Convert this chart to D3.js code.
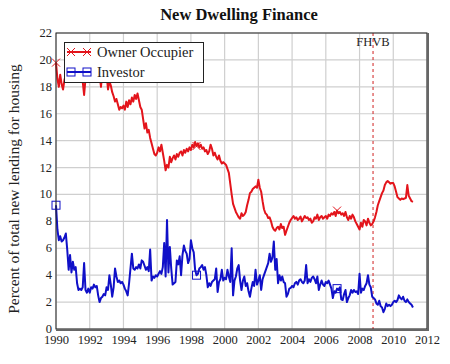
<!DOCTYPE html>
<html><head><meta charset="utf-8">
<script src="https://cdn.jsdelivr.net/npm/d3@7"></script>
<style>body{margin:0;background:#fff}svg{display:block}text{font-family:"Liberation Serif","Times New Roman",serif}</style>
</head><body><svg id="c" width="450" height="364"></svg>
<script>
const title = "New Dwelling Finance";
const yLabel = "Percent of total new lending for housing";
const seriesNames = ["Owner Occupier", "Investor"];
const startYear = 1990; // monthly observations from Jan 1990
const xTicks = [1990,1992,1994,1996,1998,2000,2002,2004,2006,2008,2010,2012];
const yTicks = [0,2,4,6,8,10,12,14,16,18,20,22];
const eventYear = 2008.8, eventLabel = "FHVB";
const ownerOccupier = [
19.8,18.6,18.0,18.9,18.2,17.8,18.5,18.9,18.4,19.0,18.7,19.2,
18.9,19.3,18.8,19.4,19.0,18.6,19.2,18.4,17.4,18.6,19.1,19.5,
19.2,19.6,19.0,19.4,18.8,19.3,19.5,18.9,18.0,19.1,19.4,18.5,
19.0,17.8,18.4,18.1,17.6,17.3,16.9,17.1,16.7,16.3,16.5,16.4,
16.6,16.3,16.9,16.5,17.0,16.7,17.2,16.9,17.4,17.1,17.5,17.0,
16.5,16.3,15.6,14.9,15.3,14.6,14.8,14.2,13.8,13.4,13.0,12.9,
13.1,13.5,13.2,13.7,13.1,12.5,11.8,12.2,12.0,12.8,12.4,12.7,
12.9,12.6,13.0,12.8,13.1,13.2,12.9,13.3,13.1,13.4,13.2,13.5,
13.3,13.7,13.5,13.9,13.6,13.8,13.5,13.7,13.4,13.5,13.2,13.3,
13.0,13.2,13.7,13.4,12.9,13.1,12.8,12.6,12.9,12.5,12.3,12.4,
12.3,12.2,11.9,11.6,10.8,10.0,9.3,9.0,8.7,8.5,8.3,8.2,
8.6,8.4,8.5,8.7,9.2,9.6,10.1,10.2,10.4,10.5,10.6,10.5,
11.1,10.5,10.2,9.5,8.9,8.6,8.5,8.25,8.3,8.0,7.6,7.4,
7.3,7.5,7.6,7.4,7.8,7.5,7.6,7.0,7.3,7.6,7.9,8.1,
8.25,8.4,8.2,8.3,8.1,8.2,8.35,8.0,8.2,8.4,8.25,8.3,
8.1,8.2,7.9,8.0,8.3,8.2,8.5,8.1,8.3,8.4,8.2,8.3,
8.4,8.2,8.5,8.4,8.6,8.5,8.7,8.4,8.8,8.6,8.7,8.5,
8.6,8.4,8.7,8.3,8.1,8.4,8.2,8.5,8.3,8.0,7.8,7.6,
7.4,7.9,7.6,8.1,8.0,7.7,8.2,7.9,7.7,7.8,8.0,8.3,
8.7,9.2,9.5,9.8,10.1,10.3,10.7,10.9,11.0,10.9,10.8,10.85,
10.85,10.6,10.2,9.8,9.7,9.6,9.7,9.65,9.7,9.75,10.7,9.9,
9.7,9.5,9.45];
const investor = [
9.2,7.4,6.6,6.9,6.5,6.6,6.8,7.1,5.9,4.4,5.5,4.2,
5.0,4.4,4.6,3.4,2.9,3.0,2.9,3.1,4.9,2.9,2.7,3.0,
2.7,3.1,3.0,3.3,3.1,3.2,2.5,2.0,2.3,2.4,2.6,2.5,
3.1,2.9,4.0,3.3,2.4,3.1,4.5,3.9,3.5,3.6,3.4,3.5,
3.3,3.0,2.8,2.5,3.4,4.5,5.6,4.5,4.4,4.6,4.5,4.8,
4.5,5.1,5.0,4.7,4.4,4.6,4.3,5.9,3.6,3.9,3.8,4.0,
3.9,4.1,4.3,4.1,4.6,6.4,3.9,8.1,4.2,6.1,4.5,3.3,
3.4,3.5,5.1,4.8,5.4,4.0,5.5,6.2,5.8,5.6,4.9,5.2,
6.6,6.0,5.7,4.4,4.0,4.1,4.5,4.6,4.75,4.4,4.6,4.0,
3.1,3.4,3.2,3.5,3.6,3.7,4.5,2.75,3.5,3.7,4.4,3.6,
3.8,3.7,4.4,3.9,3.5,6.0,2.5,3.6,3.9,4.5,4.75,3.6,
2.9,3.6,3.9,3.2,3.4,2.8,2.4,3.0,3.5,3.2,4.4,3.3,
3.6,4.0,2.9,3.7,4.0,4.3,4.6,4.9,5.6,5.0,5.3,6.5,
4.4,5.2,3.4,4.0,3.6,3.9,3.5,3.4,2.4,2.6,3.0,3.05,
3.2,3.1,3.4,3.5,3.3,3.6,3.7,3.5,3.4,3.6,4.75,3.4,
3.7,3.5,3.8,3.9,3.7,3.4,3.9,2.9,3.3,3.6,3.3,3.2,
3.5,3.4,3.6,3.3,3.0,2.3,2.8,2.7,3.0,2.9,3.1,2.2,
2.15,2.6,2.9,2.0,2.3,2.5,2.9,2.7,2.9,2.75,2.8,2.6,
4.1,2.7,3.0,2.9,3.2,3.4,4.0,3.3,3.1,2.4,2.3,2.2,
1.9,1.8,2.1,1.7,1.6,1.25,1.5,1.9,1.7,1.8,1.7,1.8,
2.0,2.1,2.0,2.15,2.5,2.3,2.2,2.4,2.1,2.0,2.2,2.0,
1.9,1.8,1.6];
const colors = ["#e3141b", "#1010c8"];

const svg = d3.select("#c");
const m = {l:56, r:23, t:33, b:35};
const W = 450, H = 364;
const x = d3.scaleLinear().domain([1990, 2012]).range([m.l, W - m.r]);
const y = d3.scaleLinear().domain([0, 22]).range([H - m.b, m.t]);

// grid
svg.append("g").selectAll("line").data(xTicks).join("line")
  .attr("x1", d => x(d)).attr("x2", d => x(d)).attr("y1", y(0)).attr("y2", y(22))
  .attr("stroke", "#cfcfcf").attr("stroke-width", 1.2);
svg.append("g").selectAll("line").data(yTicks).join("line")
  .attr("y1", d => y(d)).attr("y2", d => y(d)).attr("x1", x(1990)).attr("x2", x(2012))
  .attr("stroke", "#cfcfcf").attr("stroke-width", 1.2);

// axes labels
const xa = svg.append("g").attr("transform", `translate(0,${y(0)})`)
  .call(d3.axisBottom(x).tickValues(xTicks).tickFormat(d3.format("d")).tickSize(0).tickPadding(6));
const ya = svg.append("g").attr("transform", `translate(${x(1990)},0)`)
  .call(d3.axisLeft(y).tickValues(yTicks).tickSize(0).tickPadding(4));
[xa, ya].forEach(a => { a.select(".domain").remove();
  a.selectAll("text").attr("font-family", "Liberation Serif").attr("font-size", 12.5).attr("fill", "#222"); });
ya.selectAll("text").attr("dy", "0.28em");

// event line
svg.append("line").attr("x1", x(eventYear)).attr("x2", x(eventYear)).attr("y1", y(22)).attr("y2", y(0))
  .attr("stroke", "#d02020").attr("stroke-width", 1).attr("stroke-dasharray", "3,3");
svg.append("text").attr("x", x(eventYear)).attr("y", y(22) + 13).attr("text-anchor", "middle")
  .attr("font-size", 12.5).attr("fill", "#222").text(eventLabel);

// series
const toPts = arr => arr.map((v, i) => [startYear + i / 12, v]);
const line = d3.line().x(d => x(d[0])).y(d => y(d[1]));
const series = [ownerOccupier, investor];
series.forEach((arr, k) => {
  svg.append("path").datum(toPts(arr)).attr("d", line).attr("fill", "none")
    .attr("stroke", colors[k]).attr("stroke-width", 2).attr("stroke-linejoin", "round");
});
// sparse markers
const markerIdx = [0, 100, 200];
function drawMarker(g, k, cx, cy) {
  if (k === 0) {
    g.append("path").attr("d", `M${cx-4},${cy-4}L${cx+4},${cy+4}M${cx-4},${cy+4}L${cx+4},${cy-4}`)
      .attr("stroke", colors[0]).attr("stroke-width", 1).attr("fill", "none");
  } else {
    g.append("rect").attr("x", cx - 4).attr("y", cy - 4).attr("width", 8).attr("height", 8)
      .attr("fill", "none").attr("stroke", colors[1]).attr("stroke-width", 1);
  }
}
const mg = svg.append("g");
series.forEach((arr, k) => markerIdx.forEach(i => {
  if (i < arr.length) drawMarker(mg, k, x(startYear + i / 12), y(arr[i]));
}));

// frame
svg.append("rect").attr("x", x(1990)).attr("y", y(22)).attr("width", x(2012) - x(1990)).attr("height", y(0) - y(22))
  .attr("fill", "none").attr("stroke", "#222").attr("stroke-width", 1);
svg.append("path").attr("d", `M${x(2012)+1},${y(22)}V${y(0)+1}H${x(1990)}`)
  .attr("fill", "none").attr("stroke", "#666").attr("stroke-width", 2);

// legend
const lg = svg.append("g");
lg.append("rect").attr("x", 64.5).attr("y", 42.5).attr("width", 139).attr("height", 40)
  .attr("fill", "#fff").attr("stroke", "#222").attr("stroke-width", 1);
seriesNames.forEach((n, k) => {
  const ly = 52 + k * 20;
  lg.append("line").attr("x1", 67).attr("x2", 91).attr("y1", ly).attr("y2", ly)
    .attr("stroke", colors[k]).attr("stroke-width", 2);
  drawMarker(lg, k, 71, ly); drawMarker(lg, k, 87, ly);
  lg.append("text").attr("x", 97).attr("y", ly + 5).attr("font-size", 14.5).attr("fill", "#222").text(n);
});

// titles
svg.append("text").attr("x", 239).attr("y", 20).attr("text-anchor", "middle")
  .attr("font-size", 16.5).attr("font-weight", "bold").attr("fill", "#111").text(title);
svg.append("text").attr("transform", `translate(19,${(y(0)+y(22))/2 + 8}) rotate(-90)`)
  .attr("text-anchor", "middle").attr("font-size", 15.5).attr("fill", "#222").text(yLabel);
</script></body></html>
